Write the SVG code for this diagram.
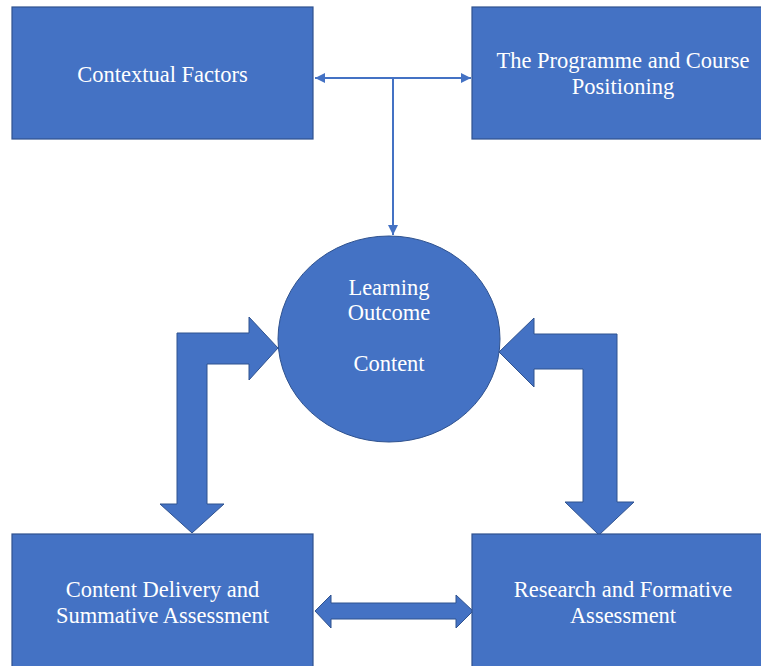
<svg xmlns="http://www.w3.org/2000/svg" width="761" height="666" viewBox="0 0 761 666">
<style>
.box{fill:#4472C4;stroke:#2F528F;stroke-width:1.2}
.big{fill:#4472C4;stroke:#2F528F;stroke-width:1}
.t{fill:#ffffff;font-family:'Liberation Serif','Times New Roman',Times,serif;font-size:22.5px;text-anchor:middle}
.ln{stroke:#4472C4;stroke-width:2;fill:none}
</style>
<defs>
<marker id="ah" viewBox="0 0 10 10" refX="10" refY="5" markerWidth="5" markerHeight="5" orient="auto-start-reverse" markerUnits="strokeWidth">
<path d="M0,0 L10,5 L0,10 Z" fill="#4472C4"/>
</marker>
</defs>
<rect width="761" height="666" fill="#ffffff"/>
<g id="connectors">
<line class="ln" x1="315" y1="78" x2="471" y2="78" marker-start="url(#ah)" marker-end="url(#ah)"/>
<line class="ln" x1="393" y1="78" x2="393" y2="235" marker-end="url(#ah)"/>
<path class="big" d="M177,333 L249,333 L249,317 L278,348 L249,380 L249,364 L207,364 L207,504 L224,504 L192,533 L160,504 L177,504 Z"/>
<path class="big" d="M617,334 L534,334 L534,318 L499,352 L534,387 L534,369 L583,369 L583,502 L565,502 L599,535 L634,502 L617,502 Z"/>
<path class="big" d="M315,611 L331,595 L331,603 L456,603 L456,595 L473,611 L456,628 L456,619 L331,619 L331,628 Z"/>
</g>
<g id="contextual">
<rect class="box" x="12" y="7" width="301" height="132"/>
<text class="t" font-family="Liberation Serif, serif" x="162.5" y="82">Contextual Factors</text>
</g>
<g id="programme">
<rect class="box" x="472" y="7" width="301" height="132"/>
<text class="t" x="623" y="68">The Programme and Course</text>
<text class="t" x="623" y="94">Positioning</text>
</g>
<g id="learning">
<ellipse class="big" cx="389" cy="339" rx="111" ry="103"/>
<text class="t" x="389" y="295">Learning</text>
<text class="t" x="389" y="320">Outcome</text>
<text class="t" x="389" y="371">Content</text>
</g>
<g id="delivery">
<rect class="box" x="12" y="534" width="301" height="134"/>
<text class="t" x="162.5" y="597">Content Delivery and</text>
<text class="t" x="162.5" y="623">Summative Assessment</text>
</g>
<g id="research">
<rect class="box" x="472" y="534" width="301" height="134"/>
<text class="t" x="623" y="597">Research and Formative</text>
<text class="t" x="623" y="623">Assessment</text>
</g>
</svg>
